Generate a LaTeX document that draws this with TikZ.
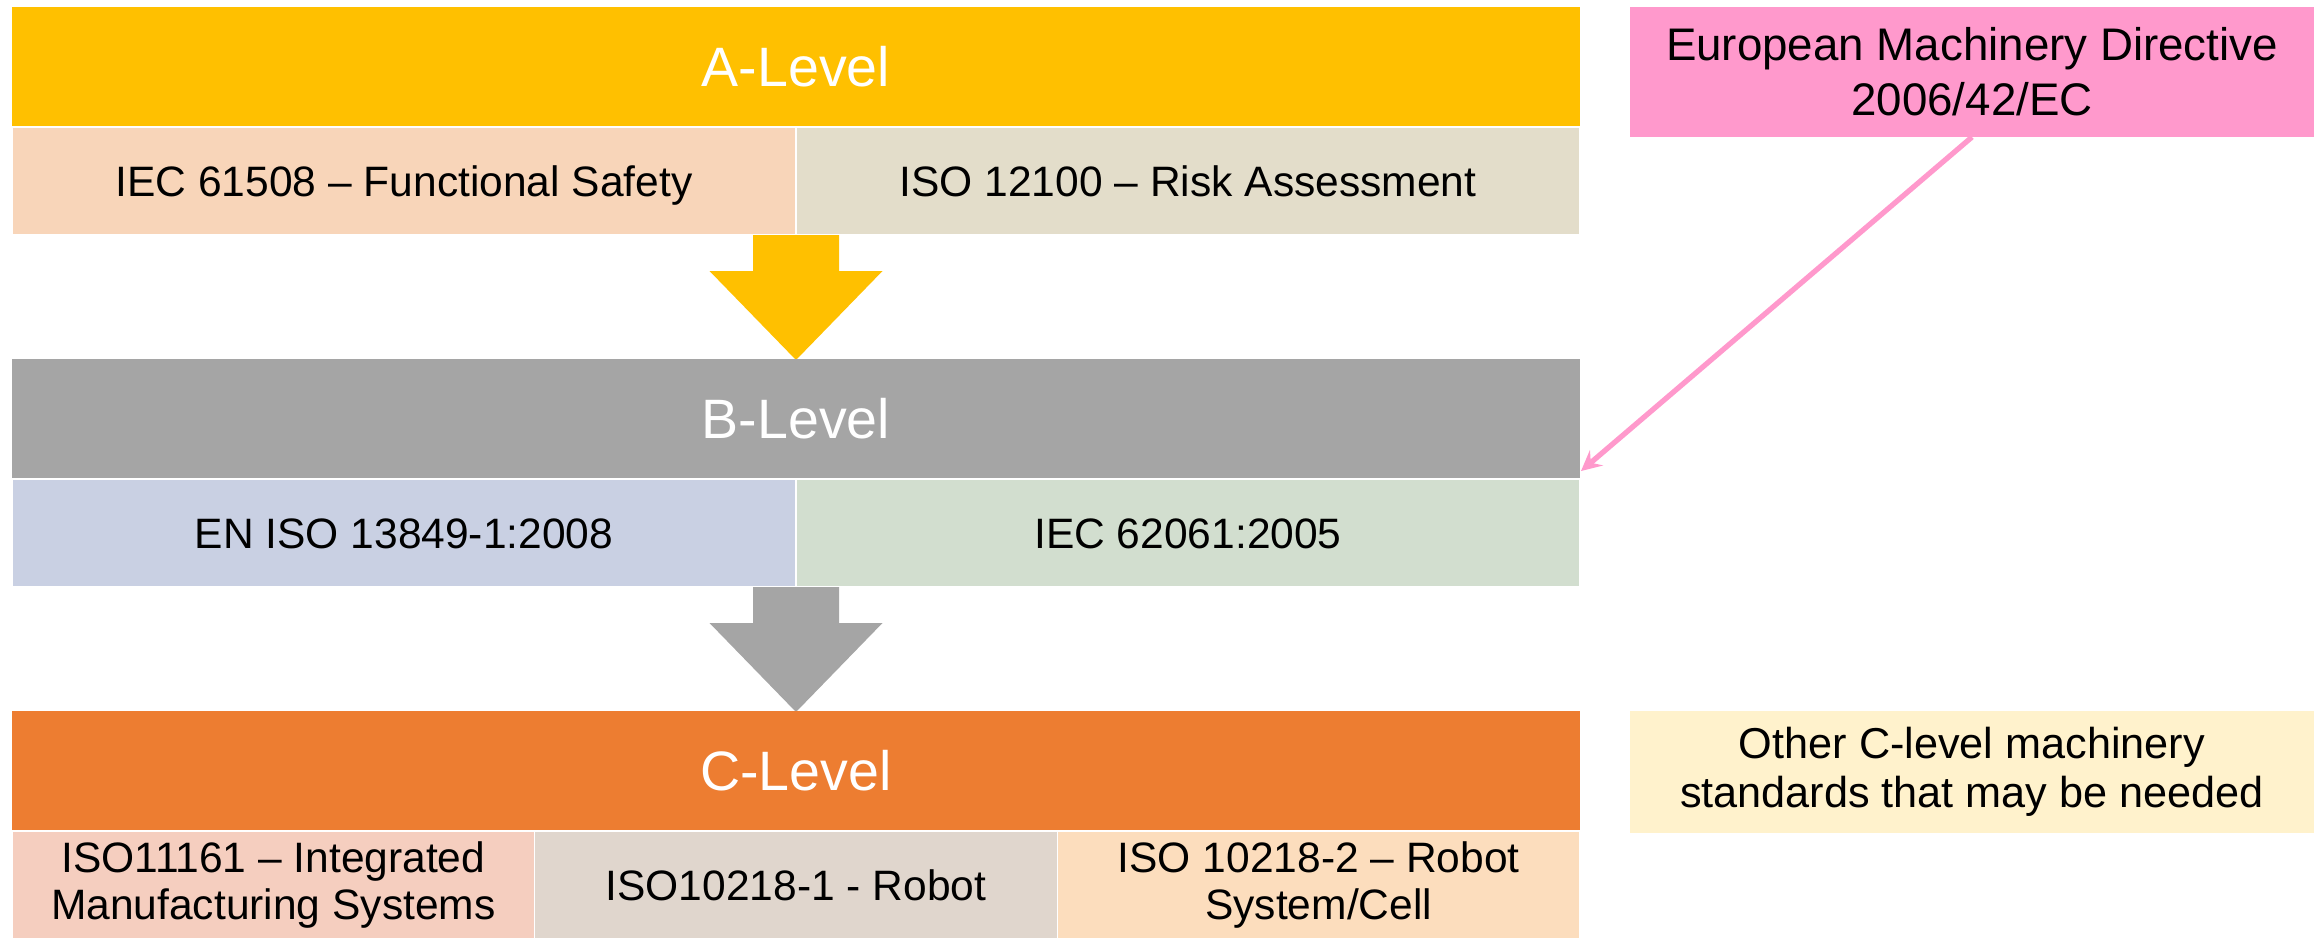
\documentclass[tikz,border=0pt]{standalone}
\usepackage{fontspec}
\setmainfont{Liberation Sans}
\usetikzlibrary{positioning}

\definecolor{agold}{HTML}{FFC000}
\definecolor{apeach}{HTML}{F8D5B9}
\definecolor{abeige}{HTML}{E3DDCA}
\definecolor{bgrey}{HTML}{A5A5A5}
\definecolor{bblue}{HTML}{C9D0E3}
\definecolor{bgreen}{HTML}{D2DECF}
\definecolor{corange}{HTML}{ED7D31}
\definecolor{csalmon}{HTML}{F5CEBF}
\definecolor{ctaupe}{HTML}{E0D6CD}
\definecolor{capricot}{HTML}{FCDDBD}
\definecolor{mdpink}{HTML}{FF99CC}
\definecolor{othercream}{HTML}{FFF2CC}

\begin{document}
\begin{tikzpicture}%
  [level/.style=
    {fill=#1,minimum height=1.2cm,minimum width=15.68cm,inner sep=0pt,
     outer sep=0pt,text=white,font=\fontsize{15.8}{19}\selectfont},
   std/.style=
    {fill=#1,draw=white,line width=0.4pt,minimum height=1.08cm,inner sep=0pt,
     outer sep=0pt,align=center,font=\fontsize{12.1}{13.1}\selectfont},
   oneline/.style={text height=8.6pt,text depth=0pt},
   halfstd/.style={std=#1,oneline,minimum width=7.84cm},
   thirdstd/.style={std=#1,minimum width=5.2267cm},
   sidebox/.style=
    {fill=#1,minimum width=6.84cm,inner sep=0pt,outer sep=0pt,align=center},
   link/.style={mdpink,line width=1.5pt,-stealth}
  ]
  \useasboundingbox (0,0) rectangle (23.16,-9.41);

  % A level
  \node[level=agold,anchor=north west] (alevel) at (0.12,-0.07) {A-Level};
  \node[halfstd=apeach,below=0pt of alevel.south west,anchor=north west]
    (afunc) {IEC 61508 -- Functional Safety};
  \node[halfstd=abeige,right=0pt of afunc] (arisk) {ISO 12100 -- Risk Assessment};
  \fill[agold,shift={(afunc.south east)}] (-0.43,0) -- (0.43,0) -- (0.43,-0.36)
    -- (0.865,-0.36) -- (0,-1.25) -- (-0.865,-0.36) -- (-0.43,-0.36) -- cycle;

  % B level
  \node[level=bgrey,below=1.24cm of afunc.south west,anchor=north west]
    (blevel) {B-Level};
  \node[halfstd=bblue,below=0pt of blevel.south west,anchor=north west]
    (bisoen) {EN ISO 13849-1:2008};
  \node[halfstd=bgreen,right=0pt of bisoen] (biec) {IEC 62061:2005};
  \fill[bgrey,shift={(bisoen.south east)}] (-0.43,0) -- (0.43,0) -- (0.43,-0.36)
    -- (0.865,-0.36) -- (0,-1.25) -- (-0.865,-0.36) -- (-0.43,-0.36) -- cycle;

  % C level
  \node[level=corange,below=1.24cm of bisoen.south west,anchor=north west]
    (clevel) {C-Level};
  \node[thirdstd=csalmon,below=0pt of clevel.south west,anchor=north west]
    (cims) {ISO11161 -- Integrated\\Manufacturing Systems};
  \node[thirdstd=ctaupe,oneline,right=0pt of cims] (crobot) {ISO10218-1 - Robot};
  \node[thirdstd=capricot,right=0pt of crobot] (ccell) {ISO 10218-2 -- Robot\\System/Cell};

  % side boxes
  \node[sidebox=mdpink,minimum height=1.3cm,right=0.5cm of alevel.north east,
    anchor=north west,font=\fontsize{13}{15.6}\selectfont]
    (emd) {European Machinery Directive\\2006/42/EC};
  \node[sidebox=othercream,minimum height=1.22cm,right=0.5cm of clevel.north east,
    anchor=north west,font=\fontsize{12.3}{13.9}\selectfont]
    (cother) {Other C-level machinery\\standards that may be needed};

  \coordinate (emdtip) at ([xshift=0.01cm,yshift=0.08cm]blevel.south east);
  \draw[link] (emd.south) -- (emdtip);
\end{tikzpicture}
\end{document}
